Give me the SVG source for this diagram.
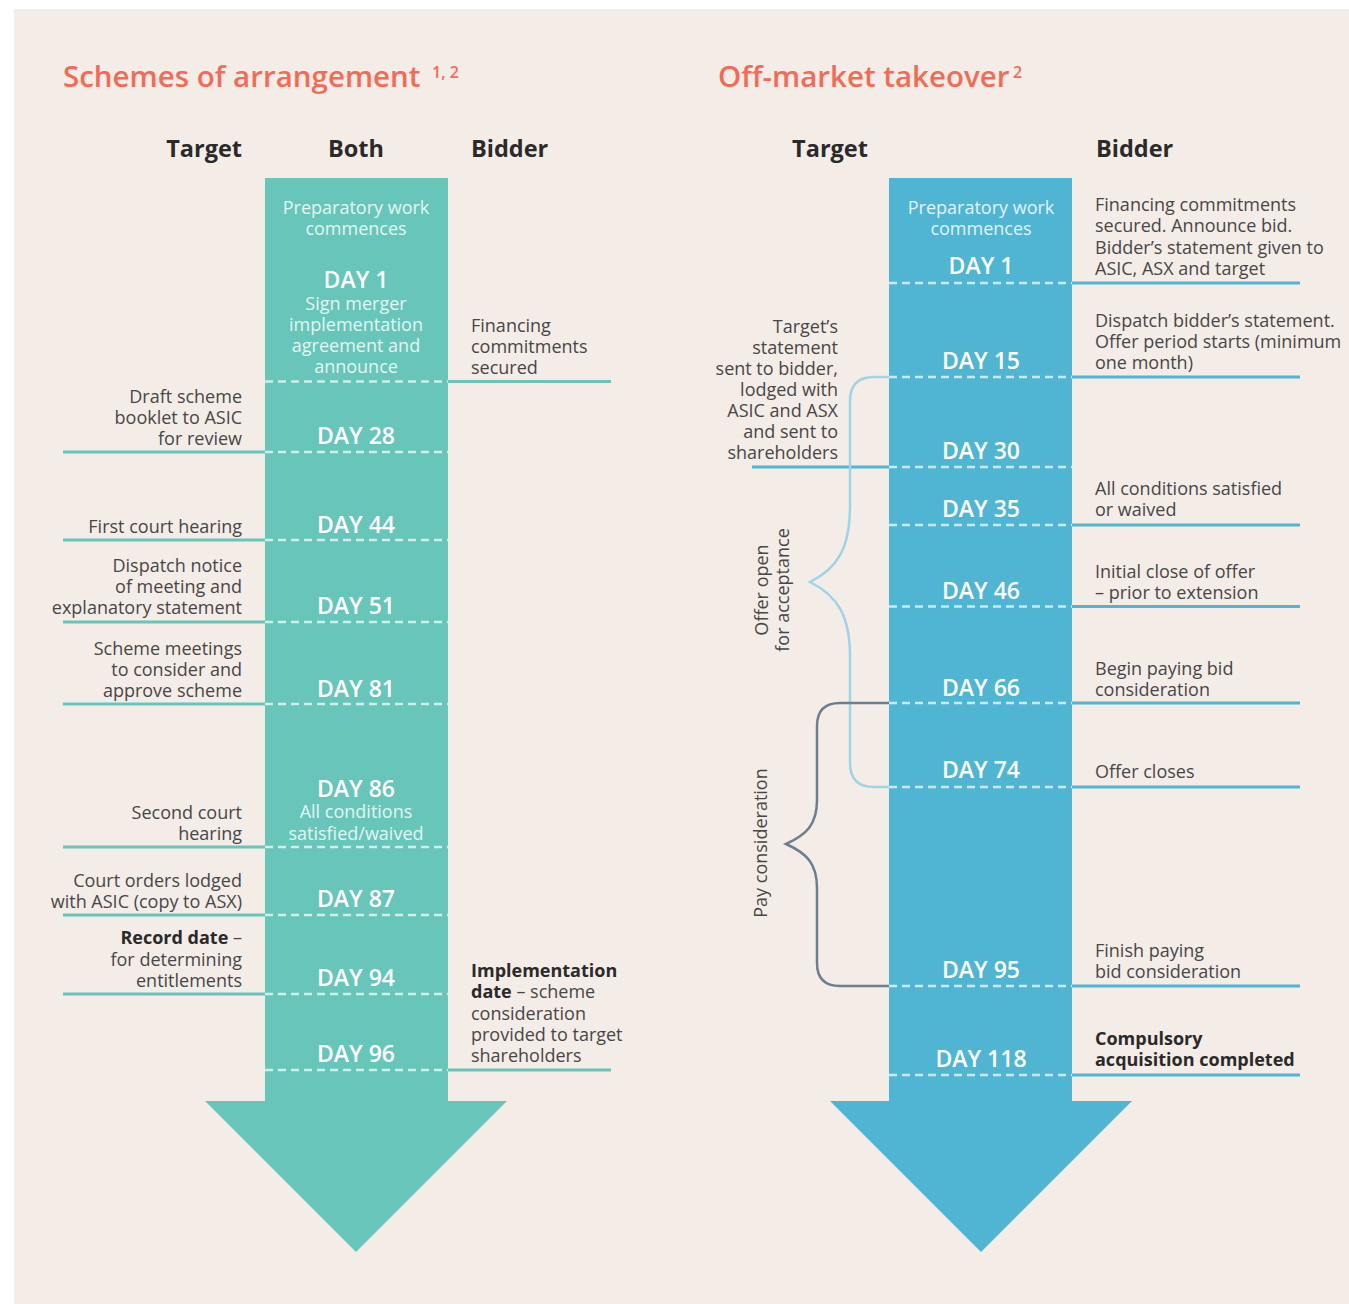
<svg xmlns="http://www.w3.org/2000/svg" width="1349" height="1304" viewBox="0 0 1349 1304">
<style>
text{font-family:"Open Sans","Noto Sans","Liberation Sans",sans-serif}
.title{font-size:29.5px;font-weight:600;fill:#f26b56}
.sup{font-size:16px;font-weight:600;fill:#f26b56}
.hdr{font-size:23.5px;font-weight:700;fill:#2a2a2a}
.day{font-size:23px;font-weight:600;fill:#ffffff;text-anchor:middle}
.in{font-size:18px;fill:#e4f5f2;text-anchor:middle}
.inb{font-size:18px;fill:#e2f2f8;text-anchor:middle}
.t{font-size:18px;fill:#474747}
.r{text-anchor:end}
.b{font-weight:700;fill:#2a2a2a}
.dash{stroke:#ffffff;stroke-opacity:0.7;stroke-width:2.5;stroke-dasharray:8 5;fill:none}
.lt{stroke:#67c5b9;stroke-width:3;fill:none}
.lb{stroke:#4fb5d3;stroke-width:3;fill:none}
</style>
<rect x="14" y="9" width="1335" height="1295" fill="#f4ece7"/>

<!-- LEFT: Schemes of arrangement -->
<g id="left-title">
<text x="63" y="87" class="title">Schemes of arrangement</text>
<text x="432" y="78" class="sup">1, 2</text>
<text x="242" y="157" class="hdr" text-anchor="end">Target</text>
<text x="356" y="157" class="hdr" text-anchor="middle">Both</text>
<text x="471" y="157" class="hdr">Bidder</text>
</g>
<g id="left-arrow">
<path d="M265,178 H448 V1101 H507 L356,1252 L205,1101 H265 Z" fill="#67c5b9"/>
</g>
<g id="left-connectors">
<path class="dash" d="M265,381.5H448 M265,452H448 M265,540H448 M265,622H448 M265,704H448 M265,847H448 M265,915H448 M265,994H448 M265,1070H448"/>
<path class="lt" d="M448,381.5H611 M63,452H265 M63,540H265 M63,622H265 M63,704H265 M63,847H265 M63,915H265 M63,994H265 M448,1070H611"/>
</g>
<g id="l-prep"><text class="in" x="356" y="214">Preparatory work</text><text class="in" x="356" y="235">commences</text></g>
<g id="l-day1">
<text class="day" x="356" y="288">DAY 1</text>
<text class="in" x="356" y="310">Sign merger</text>
<text class="in" x="356" y="331">implementation</text>
<text class="in" x="356" y="352">agreement and</text>
<text class="in" x="356" y="373">announce</text>
<text class="t" x="471" y="332">Financing</text>
<text class="t" x="471" y="353">commitments</text>
<text class="t" x="471" y="374">secured</text>
</g>
<g id="l-day28">
<text class="day" x="356" y="444">DAY 28</text>
<text class="t r" x="242" y="403">Draft scheme</text>
<text class="t r" x="242" y="424">booklet to ASIC</text>
<text class="t r" x="242" y="445">for review</text>
</g>
<g id="l-day44">
<text class="day" x="356" y="533">DAY 44</text>
<text class="t r" x="242" y="533">First court hearing</text>
</g>
<g id="l-day51">
<text class="day" x="356" y="614">DAY 51</text>
<text class="t r" x="242" y="572">Dispatch notice</text>
<text class="t r" x="242" y="593">of meeting and</text>
<text class="t r" x="242" y="614">explanatory statement</text>
</g>
<g id="l-day81">
<text class="day" x="356" y="697">DAY 81</text>
<text class="t r" x="242" y="655">Scheme meetings</text>
<text class="t r" x="242" y="676">to consider and</text>
<text class="t r" x="242" y="697">approve scheme</text>
</g>
<g id="l-day86">
<text class="day" x="356" y="797">DAY 86</text>
<text class="in" x="356" y="818">All conditions</text>
<text class="in" x="356" y="840">satisfied/waived</text>
<text class="t r" x="242" y="819">Second court</text>
<text class="t r" x="242" y="840">hearing</text>
</g>
<g id="l-day87">
<text class="day" x="356" y="907">DAY 87</text>
<text class="t r" x="242" y="887">Court orders lodged</text>
<text class="t r" x="242" y="908">with ASIC (copy to ASX)</text>
</g>
<g id="l-day94">
<text class="day" x="356" y="986">DAY 94</text>
<text class="t r" x="242" y="944"><tspan class="b">Record date</tspan> –</text>
<text class="t r" x="242" y="966">for determining</text>
<text class="t r" x="242" y="987">entitlements</text>
</g>
<g id="l-day96">
<text class="day" x="356" y="1062">DAY 96</text>
<text class="t" x="471" y="977"><tspan class="b">Implementation</tspan></text>
<text class="t" x="471" y="998"><tspan class="b">date</tspan> – scheme</text>
<text class="t" x="471" y="1020">consideration</text>
<text class="t" x="471" y="1041">provided to target</text>
<text class="t" x="471" y="1062">shareholders</text>
</g>

<!-- RIGHT: Off-market takeover -->
<g id="right-title">
<text x="718" y="87" class="title">Off-market takeover</text>
<text x="1013" y="78" class="sup">2</text>
<text x="830" y="157" class="hdr" text-anchor="middle">Target</text>
<text x="1096" y="157" class="hdr">Bidder</text>
</g>
<g id="right-arrow">
<path d="M889,178 H1072 V1101 H1132 L981,1252 L830,1101 H889 Z" fill="#4fb5d3"/>
</g>
<g id="right-connectors">
<path class="dash" d="M889,283H1072 M889,377H1072 M889,467H1072 M889,525H1072 M889,606.5H1072 M889,703H1072 M889,787H1072 M889,986H1072 M889,1075H1072"/>
<path class="lb" d="M1072,283H1300 M1072,377H1300 M752,467H889 M1072,525H1300 M1072,606.5H1300 M1072,703H1300 M1072,787H1300 M1072,986H1300 M1072,1075H1300"/>
<path d="M889,377 H874 Q850,377 850,401 L850,505 C850,548 838,568 810,582 C838,596 850,616 850,657 L850,763 Q850,787 874,787 H889" fill="none" stroke="#9fd3e6" stroke-width="2.5"/>
<path d="M889,703 H840 Q817,703 817,726 L817,800 C817,825 806,835 786,844 C806,853 817,863 817,888 L817,963 Q817,986 840,986 H889" fill="none" stroke="#6b7f8e" stroke-width="2.5"/>
</g>
<g id="r-prep"><text class="inb" x="981" y="214">Preparatory work</text><text class="inb" x="981" y="235">commences</text></g>
<g id="r-day1">
<text class="day" x="981" y="274">DAY 1</text>
<text class="t" x="1095" y="211">Financing commitments</text>
<text class="t" x="1095" y="232">secured. Announce bid.</text>
<text class="t" x="1095" y="254">Bidder’s statement given to</text>
<text class="t" x="1095" y="275">ASIC, ASX and target</text>
</g>
<g id="r-day15">
<text class="day" x="981" y="369">DAY 15</text>
<text class="t" x="1095" y="327">Dispatch bidder’s statement.</text>
<text class="t" x="1095" y="348">Offer period starts (minimum</text>
<text class="t" x="1095" y="369">one month)</text>
</g>
<g id="r-day30">
<text class="day" x="981" y="459">DAY 30</text>
<text class="t r" x="838" y="333">Target’s</text>
<text class="t r" x="838" y="354">statement</text>
<text class="t r" x="838" y="375">sent to bidder,</text>
<text class="t r" x="838" y="396">lodged with</text>
<text class="t r" x="838" y="417">ASIC and ASX</text>
<text class="t r" x="838" y="438">and sent to</text>
<text class="t r" x="838" y="459">shareholders</text>
</g>
<g id="r-day35">
<text class="day" x="981" y="517">DAY 35</text>
<text class="t" x="1095" y="495">All conditions satisfied</text>
<text class="t" x="1095" y="516">or waived</text>
</g>
<g id="r-day46">
<text class="day" x="981" y="599">DAY 46</text>
<text class="t" x="1095" y="578">Initial close of offer</text>
<text class="t" x="1095" y="599">– prior to extension</text>
</g>
<g id="r-day66">
<text class="day" x="981" y="696">DAY 66</text>
<text class="t" x="1095" y="675">Begin paying bid</text>
<text class="t" x="1095" y="696">consideration</text>
</g>
<g id="r-day74">
<text class="day" x="981" y="778">DAY 74</text>
<text class="t" x="1095" y="778">Offer closes</text>
</g>
<g id="r-day95">
<text class="day" x="981" y="978">DAY 95</text>
<text class="t" x="1095" y="957">Finish paying</text>
<text class="t" x="1095" y="978">bid consideration</text>
</g>
<g id="r-day118">
<text class="day" x="981" y="1067">DAY 118</text>
<text class="t b" x="1095" y="1045">Compulsory</text>
<text class="t b" x="1095" y="1066">acquisition completed</text>
</g>
<g id="brace-labels">
<text class="t" text-anchor="middle" transform="translate(768,590) rotate(-90)">Offer open</text>
<text class="t" text-anchor="middle" transform="translate(789,590) rotate(-90)">for acceptance</text>
<text class="t" text-anchor="middle" transform="translate(767,843) rotate(-90)">Pay consideration</text>
</g>
</svg>
